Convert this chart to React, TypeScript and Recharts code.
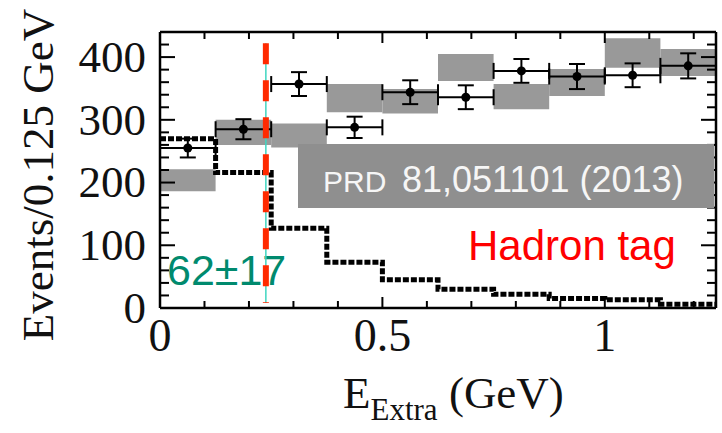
import React from 'react';
import {
  ComposedChart,
  XAxis,
  YAxis,
  Scatter,
  ErrorBar,
  Line,
  ReferenceArea,
  ReferenceLine,
} from 'recharts';

// bins of 0.125 GeV
const binEdges = [0, 0.125, 0.25, 0.375, 0.5, 0.625, 0.75, 0.875, 1.0, 1.125, 1.25];
const binCenters = [0.0625, 0.1875, 0.3125, 0.4375, 0.5625, 0.6875, 0.8125, 0.9375, 1.0625, 1.1875];

// data points
const dataCounts = [255, 285, 357, 288, 344, 336, 378, 369, 371, 386];
const dataErrors = [15, 16, 19, 17, 19, 19, 19, 20, 19, 20];

// grey background band (low / high edge per bin)
const bgLow = [186, 260, 256, 312, 310, 362, 317, 338, 383, 370];
const bgHigh = [221, 300, 294, 357, 349, 405, 357, 381, 430, 413];

// dashed signal shape
const signalShape = [270, 216, 127, 73, 45, 30, 22, 15, 13, 6];

const cutValue = 0.238;

const xTicks = [0, 0.1, 0.2, 0.3, 0.4, 0.5, 0.6, 0.7, 0.8, 0.9, 1, 1.1, 1.2];
const xLabels = [0, 0.5, 1];
const yTicks = [0, 20, 40, 60, 80, 100, 120, 140, 160, 180, 200, 220, 240, 260, 280, 300, 320, 340, 360, 380, 400, 420];
const yLabels = [0, 100, 200, 300, 400];

const serif = '"Liberation Serif", "Times New Roman", serif';
const sans = '"Liberation Sans", Arial, sans-serif';

const points = binCenters.map((x, i) => ({ x, y: dataCounts[i], ey: dataErrors[i], ex: 0.0625 }));
const signal = binEdges.map((x, i) => ({ x, s: signalShape[Math.min(i, signalShape.length - 1)] }));

const BottomTick = (props: any) => {
  const { x, y, payload } = props;
  const v = Number(payload.value);
  const major = xLabels.includes(v);
  return (
    <g>
      <line x1={x} x2={x} y1={y} y2={y - (major ? 11 : 7)} stroke="#000" strokeWidth={2} />
      {major && (
        <text x={x} y={y + 43} textAnchor="middle" fontSize={46} fontFamily={serif} fill="#111">
          {v}
        </text>
      )}
    </g>
  );
};

const TopTick = (props: any) => {
  const { x, y, payload } = props;
  const major = xLabels.includes(Number(payload.value));
  return <line x1={x} x2={x} y1={y} y2={y + (major ? 11 : 7)} stroke="#000" strokeWidth={2} />;
};

const LeftTick = (props: any) => {
  const { x, y, payload } = props;
  const v = Number(payload.value);
  const major = yLabels.includes(v);
  return (
    <g>
      <line x1={x} x2={x + (major ? 15 : 9)} y1={y} y2={y} stroke="#000" strokeWidth={2} />
      {major && (
        <text x={x - 14} y={y} dy="0.33em" textAnchor="end" fontSize={45} fontFamily={serif} fill="#111">
          {v}
        </text>
      )}
    </g>
  );
};

const RightTick = (props: any) => {
  const { x, y, payload } = props;
  const major = yLabels.includes(Number(payload.value));
  return <line x1={x} x2={x - (major ? 15 : 9)} y1={y} y2={y} stroke="#000" strokeWidth={2} />;
};

const frame = { stroke: '#000', strokeWidth: 2.5 };

export default function App() {
  return (
    <div style={{ position: 'absolute', left: 0, top: 0, width: 722, height: 433, background: '#fff' }}>
      <svg style={{ position: 'absolute', left: 0, top: 0 }} width={722} height={433}>
        <text x={167} y={285} fill="#008a6e" fontSize={43} fontFamily={sans}>
          62±17
        </text>
      </svg>
      <div style={{ position: 'absolute', left: 0, top: 0 }}>
        <ComposedChart width={722} height={433} margin={{ top: 31, right: 5, bottom: 124, left: 159 }}>
          <XAxis
            dataKey="x"
            type="number"
            domain={[0, 1.25]}
            allowDataOverflow
            ticks={xTicks}
            interval={0}
            tickSize={0}
            tickMargin={0}
            tickLine={false}
            height={1}
            axisLine={frame}
            tick={BottomTick}
          />
          <XAxis
            xAxisId="top"
            orientation="top"
            dataKey="x"
            type="number"
            domain={[0, 1.25]}
            allowDataOverflow
            ticks={xTicks}
            interval={0}
            tickSize={0}
            tickMargin={0}
            tickLine={false}
            height={1}
            axisLine={frame}
            tick={TopTick}
          />
          <YAxis
            type="number"
            domain={[0, 440]}
            allowDataOverflow
            ticks={yTicks}
            interval={0}
            tickSize={0}
            tickMargin={0}
            tickLine={false}
            width={1}
            axisLine={frame}
            tick={LeftTick}
          />
          <YAxis
            yAxisId="right"
            orientation="right"
            type="number"
            domain={[0, 440]}
            allowDataOverflow
            ticks={yTicks}
            interval={0}
            tickSize={0}
            tickMargin={0}
            tickLine={false}
            width={1}
            axisLine={frame}
            tick={RightTick}
          />

          {/* grey band */}
          {bgLow.map((lo, i) => (
            <ReferenceArea
              key={i}
              x1={binEdges[i]}
              x2={binEdges[i + 1]}
              y1={lo}
              y2={bgHigh[i]}
              fill="#999999"
              fillOpacity={1}
              stroke="none"
            />
          ))}

          {/* signal shape */}
          <Line
            data={signal}
            dataKey="s"
            type="stepAfter"
            stroke="#000"
            strokeWidth={5}
            strokeDasharray="6 2"
            dot={false}
            activeDot={false}
            isAnimationActive={false}
          />

          {/* data */}
          <Scatter data={points} dataKey="y" fill="#000" isAnimationActive={false}>
            <ErrorBar dataKey="ey" direction="y" width={8} stroke="#000" strokeWidth={2} />
            <ErrorBar dataKey="ex" direction="x" width={8} stroke="#000" strokeWidth={2} />
          </Scatter>

          {/* cut line */}
          <ReferenceLine
            segment={[{ x: cutValue, y: 422 }, { x: cutValue, y: 8 }]}
            stroke="#3fd6c0"
            strokeWidth={1.5}
          />
          <ReferenceLine
            segment={[{ x: cutValue, y: 422 }, { x: cutValue, y: 8 }]}
            stroke="#ff2a00"
            strokeWidth={6}
            strokeDasharray="21 16"
          />
        </ComposedChart>
      </div>
      <svg style={{ position: 'absolute', left: 0, top: 0, pointerEvents: 'none' }} width={722} height={433}>
        <rect x={298} y={144} width={416} height={64} fill="#8f8f8f" />
        <text x={323} y={192} fill="#f6f6f6" fontSize={30} fontFamily={sans}>
          PRD
        </text>
        <text x={402} y={192} fill="#f6f6f6" fontSize={36} fontFamily={sans}>
          81,051101 (2013)
        </text>
        <text x={468} y={260} fill="#ff0000" fontSize={42} fontFamily={sans}>
          Hadron tag
        </text>
        <text
          transform="translate(53,175) rotate(-90)"
          textAnchor="middle"
          fontSize={45}
          fontFamily={serif}
          fill="#111"
        >
          Events/0.125 GeV
        </text>
        <text x={343} y={408} fontSize={45} fontFamily={serif} fill="#111">
          E
          <tspan fontSize={31} dy={12}>
            Extra
          </tspan>
          <tspan fontSize={45} dy={-12}>
            {' (GeV)'}
          </tspan>
        </text>
      </svg>
    </div>
  );
}
